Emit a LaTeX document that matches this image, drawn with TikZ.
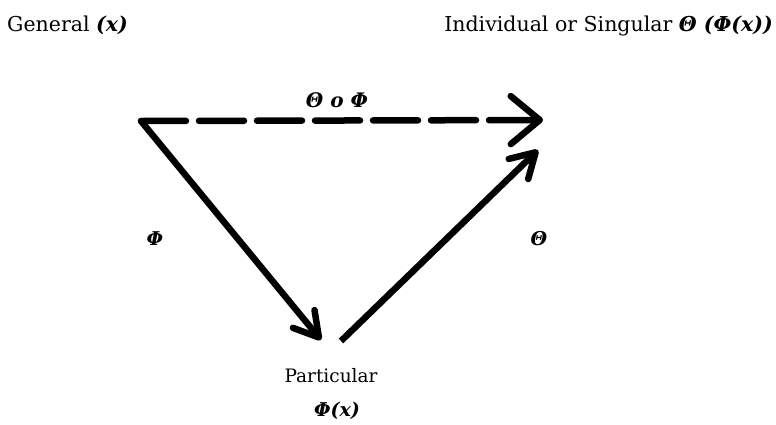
\documentclass[tikz,border=0pt]{standalone}
\usepackage{fontspec}
\setmainfont{DejaVu Serif}
\usetikzlibrary{arrows.meta}
\begin{document}
\begin{tikzpicture}[x=1pt,y=1pt,
  txt/.style={inner sep=0pt,font=\fontsize{20.5}{24}\selectfont},
  grk/.style={inner sep=0pt,font=\fontsize{19}{22}\selectfont\bfseries\itshape},
  conn/.style={line width=6.5pt,black,line cap=round,line join=round},
  bigtip/.style={-{Straight Barb[length=29pt,width=48pt,line width=6.5pt,round]}},
  smalltip/.style={-{Straight Barb[length=24pt,width=28pt,line width=6.5pt,round]}}
]
\useasboundingbox (0,0) rectangle (776,-424);
% texts
\node[txt,anchor=base west] (gen) at (7,-31) {General \textbf{\textit{(x)}}};
\node[txt,anchor=base east] (ind) at (773,-31) {Individual or Singular \textbf{\textit{Θ (Φ(x))}}};
\node[txt,anchor=base,font=\fontsize{18.5}{22}\selectfont] (par) at (331,-382) {Particular};
\node[grk,anchor=base] (parx) at (337,-416) {Φ(x)};
\node[grk,anchor=base,font=\fontsize{20}{22}\selectfont\bfseries\itshape] (comp) at (337,-107) {Θ o Φ};
\node[grk] (phi) at (155,-239) {Φ};
\node[grk] (theta) at (539,-239) {Θ};
% connector end points
\coordinate (A) at (141,-121);
\coordinate (B) at (543,-120);
\coordinate (C) at (321,-340);
\coordinate (D) at (341,-341);
\coordinate (E) at (538,-150);
% connectors
\draw[conn,bigtip,dash pattern=on 45pt off 13pt] (A) -- (B);
\draw[conn,smalltip] (A) -- (C);
\draw[conn,smalltip,line cap=butt] (D) -- (E);
\end{tikzpicture}
\end{document}
